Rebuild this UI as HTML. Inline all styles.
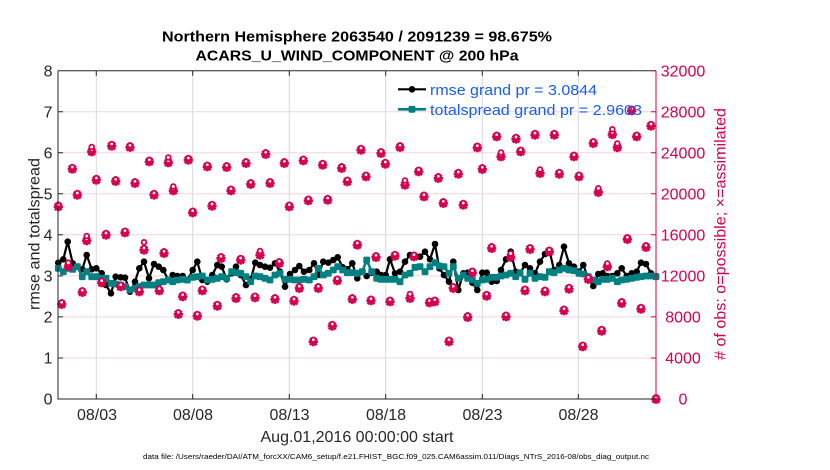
<!DOCTYPE html>
<html><head><meta charset="utf-8"><style>
html,body{margin:0;padding:0;background:#fff;}
svg{display:block;}
text{font-family:"Liberation Sans",Arial,sans-serif;}
</style></head><body>
<svg width="830" height="470" viewBox="0 0 830 470" xmlns="http://www.w3.org/2000/svg">
<defs>
<marker id="mb" markerWidth="10" markerHeight="10" refX="5" refY="5" markerUnits="userSpaceOnUse"><circle cx="5" cy="5" r="3.3" fill="#000"/></marker>
<marker id="mt" markerWidth="10" markerHeight="10" refX="5" refY="5" markerUnits="userSpaceOnUse"><rect x="1.6" y="1.6" width="6.8" height="6.8" rx="1.2" fill="#008080"/></marker>
<g id="r"><path d="M-4.6,0H4.6M0,-4.6V4.6M-3.4,-3.4L3.4,3.4M-3.4,3.4L3.4,-3.4" stroke="#d5004f" stroke-width="2.7" fill="none"/><circle cx="0" cy="-2" r="2.3" fill="#fff" stroke="#d5004f" stroke-width="1.9"/></g>
<g id="o"><circle cx="0" cy="0" r="2.4" fill="#fff" stroke="#d5004f" stroke-width="1.8"/></g>
</defs>
<rect width="830" height="470" fill="#fff"/>
<!-- grid -->
<g stroke="#f4d3df" stroke-width="1">
<line x1="58" y1="358" x2="656" y2="358"/><line x1="58" y1="316.9" x2="656" y2="316.9"/><line x1="58" y1="275.9" x2="656" y2="275.9"/><line x1="58" y1="234.8" x2="656" y2="234.8"/><line x1="58" y1="193.8" x2="656" y2="193.8"/><line x1="58" y1="152.8" x2="656" y2="152.8"/><line x1="58" y1="111.7" x2="656" y2="111.7"/>
</g>
<g stroke="#d9d9d9" stroke-width="1">
<line x1="96.3" y1="70.7" x2="96.3" y2="399"/><line x1="192.7" y1="70.7" x2="192.7" y2="399"/><line x1="289.3" y1="70.7" x2="289.3" y2="399"/><line x1="385.7" y1="70.7" x2="385.7" y2="399"/><line x1="482.3" y1="70.7" x2="482.3" y2="399"/><line x1="578.3" y1="70.7" x2="578.3" y2="399"/>
</g>
<!-- series -->
<polyline fill="none" stroke="#000" stroke-width="2.2" stroke-linejoin="round" marker-start="url(#mb)" marker-mid="url(#mb)" marker-end="url(#mb)" points="58.3,262.7 63.3,259.3 67.7,241.7 72.7,263.3 77.3,266.7 82.3,269.3 86.7,255 91.7,269.3 96.3,268.3 101.7,273.3 106,285 111,293.3 115.7,276.7 120.7,277.3 125,277.7 130,291.7 135,281.7 139.3,268.3 144,261.7 149,278.3 154,264 158.7,266.7 163.3,270 168.3,280 172.7,275 177.3,276 182.7,276 187.3,280 192.7,270 197.3,261.7 202.3,280 207.3,281.7 212.3,275 217.3,265 221.7,266.7 226.7,279.3 231.7,273.3 236,266.7 240.7,275 246,285 250.7,279.3 255.3,262.7 260,265 265,266.7 270,267.7 275,263.3 280,271.7 285,286.7 290,274 295,270 299.3,266 304,271.7 309.3,270 314,263.3 318.3,275 323.3,261.7 328.3,262.7 333.3,260 337.7,257.3 342.7,267.3 347.3,269.3 352.3,263.3 357.3,278.3 362.3,271.7 366.7,276 371.7,272.7 376.7,271.7 381,275 385.7,275 390,259.3 395,273.3 400,271.7 405,261.7 410,255 415,256.7 420,256.7 425,251.7 430,259.3 435,244 439.3,268.3 444,275 449,281.7 453.3,261.7 458.3,290 463.3,273.3 467.7,272.7 472.3,282.7 477.3,290 482.3,272.7 486.7,272.7 491.7,281.7 496.7,281 501,270 506,259.3 510.7,251.7 515.7,271.7 520,273.3 525,265 530,268.3 535,273.3 540,261.7 545,254 549.3,250 554,270 559.3,265 564,246.7 569,263.3 574,266.7 579,271.7 583.3,265 588.3,278.3 593.3,286 598.3,274 602.7,273.3 607.3,276 612.3,276 617.3,273.3 621.7,268.3 626.7,276 631.7,273.3 636.7,271.7 641,262.7 646,264 651,273.3 656,276"/>
<polyline fill="none" stroke="#008080" stroke-width="2.6" stroke-linejoin="round" marker-start="url(#mt)" marker-mid="url(#mt)" marker-end="url(#mt)" points="58.3,268.3 63.3,271.7 68.3,268.3 72.7,269.3 77.3,266.7 82.3,276.7 86.7,271.7 91.7,276.7 96.3,276.7 101.7,278.3 106,278.3 111,283.3 115.7,284 120.7,285 125,286.7 130,290 135,288.3 139.3,286.7 144,285 149,285 154,285 158.7,282.7 163.3,281.7 168.3,280 172.7,281.7 177.3,280 182.7,279.3 187.3,280 192.7,277.3 197.3,276.7 202.3,276 207.3,280 212.3,279.3 217.3,278.3 221.7,276.7 226.7,278.3 231.7,271.7 236,272.7 240.7,273.3 246,276.7 250.7,281.7 255.3,276 260,276.7 265,278.3 270,280 275,275 280,273.3 285,279.3 290,279.3 295,280 299.3,280 304,279.3 309.3,280 314,276.7 318.3,268.3 323.3,275 328.3,273.3 333.3,270 337.7,266.7 342.7,270 347.3,272.7 352.3,272.7 357.3,273.3 362.3,271.7 366.7,260 371.7,271.7 376.7,278.3 381,279.3 385.7,279.3 390,279.3 395,279.3 400,281.7 405,275 410,273.3 415,267.3 420,266.7 425,271.7 430,266.7 435,262.7 439.3,266 444,266.7 449,273.3 453.3,266.7 458.3,278.3 463.3,275 467.7,278.3 472.3,280 477.3,283.3 482.3,280 486.7,279.3 491.7,277.3 496.7,277.3 501,276 506,275 510.7,273.3 515.7,276.7 520,272.7 525,279.3 530,273.3 535,278.3 540,276.7 545,277.3 549.3,271.7 554,272.7 559.3,270 564,268.3 569,270 574,270.7 579,273.3 583.3,274 588.3,276.7 593.3,280 598.3,281.7 602.7,279.3 607.3,279.3 612.3,278.3 617.3,281.7 621.7,280 626.7,279.3 631.7,278.3 636.7,277.3 641,276.7 646,276 651,276 656,276.7"/>
<!-- red obs markers -->
<g>
<use href="#r" x="58.3" y="206.7"/><use href="#r" x="72.3" y="169"/><use href="#r" x="77.3" y="195"/><use href="#r" x="91.7" y="151.7"/><use href="#o" x="91.7" y="147"/><use href="#r" x="96.3" y="180"/><use href="#r" x="111.7" y="146"/><use href="#r" x="115.7" y="181.3"/><use href="#r" x="130" y="147.3"/><use href="#r" x="135" y="183.3"/><use href="#r" x="149.3" y="161.7"/><use href="#r" x="154" y="195"/><use href="#r" x="168.3" y="162.7"/><use href="#o" x="168.3" y="157.5"/><use href="#r" x="173.3" y="190.7"/><use href="#o" x="173.3" y="186.5"/><use href="#r" x="188.3" y="160"/><use href="#r" x="192.7" y="212.7"/><use href="#r" x="207.3" y="166.7"/><use href="#r" x="212" y="206"/><use href="#r" x="226.7" y="167.3"/><use href="#r" x="231" y="190.7"/><use href="#r" x="246" y="163.3"/><use href="#r" x="250.7" y="184.3"/><use href="#r" x="265.7" y="154.3"/><use href="#r" x="270" y="183.3"/><use href="#r" x="284.3" y="163.3"/><use href="#r" x="289.3" y="206.7"/><use href="#r" x="303.3" y="160.7"/><use href="#r" x="308.3" y="200.7"/><use href="#r" x="322.7" y="165"/><use href="#r" x="327.7" y="200"/><use href="#r" x="341.7" y="168.3"/><use href="#r" x="347.3" y="181.7"/><use href="#r" x="361" y="150"/><use href="#r" x="366" y="176.7"/><use href="#r" x="381" y="153.3"/><use href="#r" x="385.3" y="164"/><use href="#r" x="400" y="147.3"/><use href="#r" x="405" y="185"/><use href="#o" x="405" y="180.5"/><use href="#r" x="418.7" y="171.7"/><use href="#r" x="424" y="196.7"/><use href="#r" x="438.3" y="178.3"/><use href="#r" x="443.3" y="203.3"/><use href="#r" x="458.3" y="174"/><use href="#r" x="463.3" y="205"/><use href="#r" x="477.3" y="147.7"/><use href="#r" x="482.3" y="169.3"/><use href="#r" x="496.7" y="136.7"/><use href="#r" x="501" y="156.7"/><use href="#o" x="501" y="152.5"/><use href="#r" x="516" y="139"/><use href="#r" x="520.7" y="151.7"/><use href="#r" x="535" y="135"/><use href="#r" x="540" y="173.3"/><use href="#o" x="540" y="169.5"/><use href="#r" x="554.3" y="135"/><use href="#r" x="559.3" y="174"/><use href="#r" x="574" y="156.7"/><use href="#r" x="579" y="176.7"/><use href="#r" x="593.3" y="143.3"/><use href="#r" x="598.3" y="192.3"/><use href="#o" x="598.3" y="188.3"/><use href="#r" x="612.3" y="134.5"/><use href="#o" x="612.3" y="129.3"/><use href="#r" x="617.3" y="147.5"/><use href="#o" x="617.3" y="143.5"/><use href="#r" x="631.7" y="110.7"/><use href="#r" x="636.7" y="136.7"/><use href="#r" x="651" y="126"/>
<use href="#r" x="61.7" y="304.3"/><use href="#r" x="68.3" y="266.7"/><use href="#o" x="68.3" y="262.7"/><use href="#r" x="82.3" y="292.3"/><use href="#r" x="86.7" y="240.7"/><use href="#o" x="86.7" y="236"/><use href="#r" x="101.7" y="282.7"/><use href="#r" x="106" y="235"/><use href="#r" x="120.7" y="286.7"/><use href="#r" x="125" y="232.7"/><use href="#r" x="139.3" y="291.7"/><use href="#r" x="144" y="250"/><use href="#o" x="144" y="242.3"/><use href="#r" x="159.3" y="290.7"/><use href="#r" x="164" y="253.3"/><use href="#r" x="178.3" y="314.3"/><use href="#r" x="182.7" y="296.7"/><use href="#r" x="197.3" y="316"/><use href="#r" x="202.3" y="290.7"/><use href="#r" x="217.3" y="306"/><use href="#r" x="221" y="258.3"/><use href="#r" x="236" y="298.3"/><use href="#r" x="240.7" y="260"/><use href="#r" x="255" y="297.7"/><use href="#r" x="260" y="255"/><use href="#o" x="260" y="251"/><use href="#r" x="275" y="299.3"/><use href="#r" x="279.3" y="263.3"/><use href="#r" x="294" y="301"/><use href="#r" x="299.3" y="288.3"/><use href="#r" x="313.3" y="341.7"/><use href="#r" x="318.3" y="288.3"/><use href="#r" x="332.3" y="326"/><use href="#r" x="337.3" y="280.7"/><use href="#r" x="352.3" y="299.3"/><use href="#r" x="357.3" y="245"/><use href="#r" x="371" y="300.7"/><use href="#r" x="376" y="257.3"/><use href="#r" x="390" y="301.7"/><use href="#r" x="395" y="256"/><use href="#r" x="410" y="298.3"/><use href="#o" x="410" y="294"/><use href="#r" x="414" y="256.7"/><use href="#r" x="429.5" y="302.7"/><use href="#r" x="434.8" y="301.7"/><use href="#r" x="449" y="341.7"/><use href="#r" x="453.3" y="288.3"/><use href="#r" x="467.7" y="317.3"/><use href="#r" x="472.3" y="272.7"/><use href="#r" x="486.7" y="296"/><use href="#r" x="491.7" y="248.3"/><use href="#r" x="506" y="316.7"/><use href="#r" x="510.7" y="257.3"/><use href="#o" x="510.7" y="253.5"/><use href="#r" x="525" y="290.7"/><use href="#r" x="530" y="249.3"/><use href="#r" x="545" y="291.7"/><use href="#r" x="549.3" y="251.7"/><use href="#r" x="564" y="310.7"/><use href="#r" x="569" y="289"/><use href="#r" x="582.7" y="346.7"/><use href="#r" x="588.3" y="279.3"/><use href="#r" x="601.7" y="331"/><use href="#r" x="607.3" y="266.7"/><use href="#o" x="607.3" y="263.5"/><use href="#r" x="621.7" y="303.3"/><use href="#r" x="627.3" y="239.3"/><use href="#r" x="641" y="309"/><use href="#r" x="646" y="247.3"/><use href="#r" x="656" y="399.3"/>
</g>
<!-- axes -->
<g stroke="#262626" stroke-width="1" fill="none">
<line x1="58" y1="70.7" x2="58" y2="399.5"/>
<line x1="58" y1="399" x2="656" y2="399"/>
<line x1="58" y1="70.7" x2="656" y2="70.7"/>
<path d="M96.3,399V394M192.7,399V394M289.3,399V394M385.7,399V394M482.3,399V394M578.3,399V394M96.3,70.7V75.7M192.7,70.7V75.7M289.3,70.7V75.7M385.7,70.7V75.7M482.3,70.7V75.7M578.3,70.7V75.7"/>
<path d="M58,358H63M58,316.9H63M58,275.9H63M58,234.8H63M58,193.8H63M58,152.8H63M58,111.7H63"/>
</g>
<g stroke="#d5004f" stroke-width="1" fill="none">
<line x1="656" y1="70.7" x2="656" y2="399.5"/>
<path d="M656,358H651M656,316.9H651M656,275.9H651M656,234.8H651M656,193.8H651M656,152.8H651M656,111.7H651M656,70.7H651"/>
</g>
<!-- legend -->
<line x1="398" y1="89.3" x2="426" y2="89.3" stroke="#000" stroke-width="2.2"/>
<circle cx="412" cy="89.3" r="3.3" fill="#000"/>
<line x1="398" y1="109.3" x2="426" y2="109.3" stroke="#008080" stroke-width="2.6"/>
<rect x="408.6" y="105.9" width="6.8" height="6.8" rx="1.2" fill="#008080"/>
<text x="430" y="94.8" font-size="15" fill="#1a5cf5" textLength="167" lengthAdjust="spacingAndGlyphs">rmse grand pr = 3.0844</text>
<text x="430" y="114.8" font-size="15" fill="#1a5cf5" textLength="212" lengthAdjust="spacingAndGlyphs">totalspread grand pr = 2.9603</text>
<!-- titles -->
<text x="357" y="41.5" font-size="15" font-weight="bold" fill="#000" text-anchor="middle" textLength="390" lengthAdjust="spacingAndGlyphs">Northern Hemisphere 2063540 / 2091239 = 98.675%</text>
<text x="357" y="60.5" font-size="15" font-weight="bold" fill="#000" text-anchor="middle" textLength="323" lengthAdjust="spacingAndGlyphs">ACARS_U_WIND_COMPONENT @ 200 hPa</text>
<!-- left ticks -->
<g font-size="16" fill="#262626" text-anchor="end">
<text x="52.5" y="404.7">0</text><text x="52.5" y="363.7">1</text><text x="52.5" y="322.6">2</text><text x="52.5" y="281.6">3</text><text x="52.5" y="240.5">4</text><text x="52.5" y="199.5">5</text><text x="52.5" y="158.5">6</text><text x="52.5" y="117.4">7</text><text x="52.5" y="76.4">8</text>
</g>
<g font-size="16" fill="#d5004f" text-anchor="middle">
<text x="683" y="404.7">0</text><text x="683" y="363.7">4000</text><text x="683" y="322.6">8000</text><text x="683" y="281.6">12000</text><text x="683" y="240.5">16000</text><text x="683" y="199.5">20000</text><text x="683" y="158.5">24000</text><text x="683" y="117.4">28000</text><text x="683" y="76.4">32000</text>
</g>
<g font-size="16" fill="#262626" text-anchor="middle">
<text x="97" y="420">08/03</text><text x="193" y="420">08/08</text><text x="289.5" y="420">08/13</text><text x="386" y="420">08/18</text><text x="482.5" y="420">08/23</text><text x="578.5" y="420">08/28</text>
<text x="357" y="441.8" textLength="193" lengthAdjust="spacingAndGlyphs">Aug.01,2016 00:00:00 start</text>
</g>
<text transform="translate(39.5,234) rotate(-90)" font-size="16" fill="#262626" text-anchor="middle" textLength="152" lengthAdjust="spacingAndGlyphs">rmse and totalspread</text>
<text transform="translate(725.5,234) rotate(-90)" font-size="16" fill="#d5004f" text-anchor="middle" textLength="252" lengthAdjust="spacingAndGlyphs"># of obs: o=possible; ×=assimilated</text>
<text x="396" y="459" font-size="7.5" fill="#000" text-anchor="middle" textLength="506" lengthAdjust="spacingAndGlyphs">data file: /Users/raeder/DAI/ATM_forcXX/CAM6_setup/f.e21.FHIST_BGC.f09_025.CAM6assim.011/Diags_NTrS_2016-08/obs_diag_output.nc</text>
</svg>
</body></html>
